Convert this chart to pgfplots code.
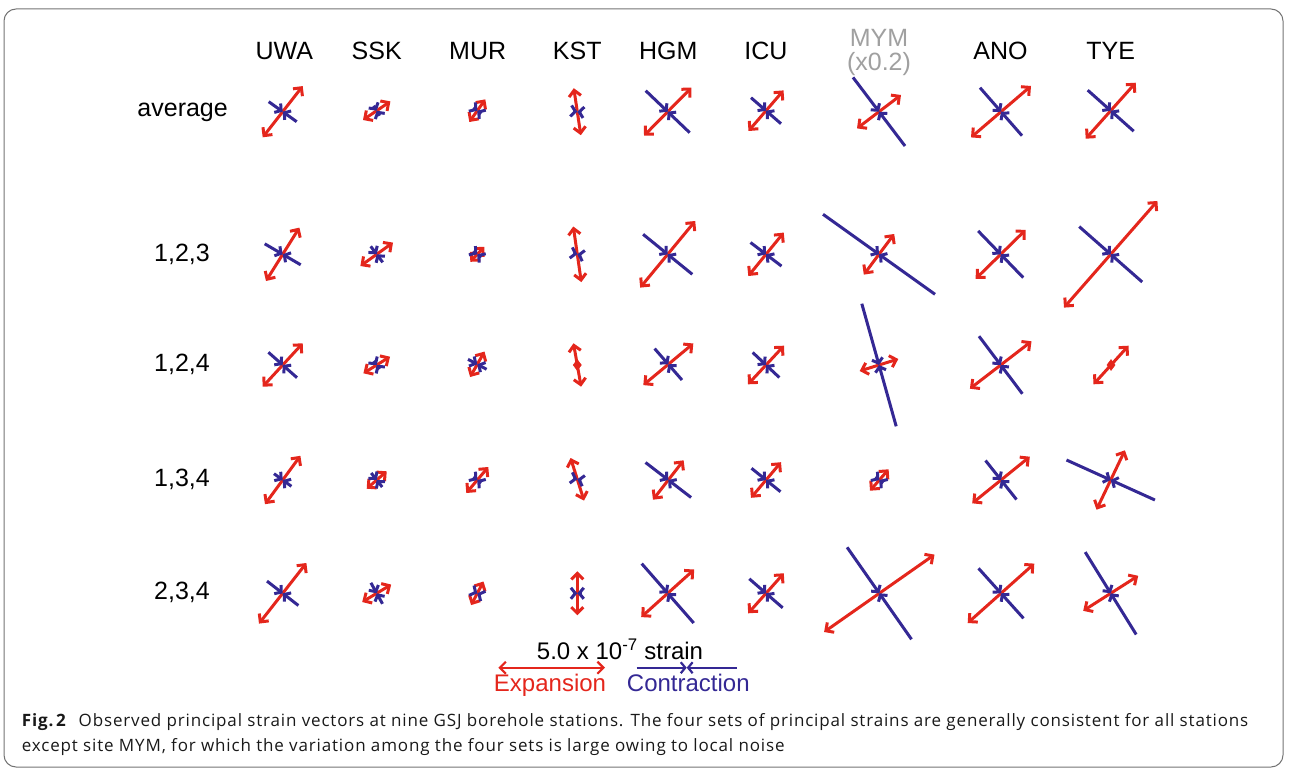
\documentclass[border=0pt]{standalone}
\usepackage{pgfplots}
\pgfplotsset{compat=1.18}
\usepackage{pgfplotstable}
\usepackage{fontspec}
\setmainfont{Liberation Sans}
\newfontfamily\capfont[LetterSpace=5]{Open Sans}
\usetikzlibrary{arrows.meta}

\definecolor{expred}{RGB}{228,38,28}
\definecolor{conblue}{RGB}{52,40,148}
\definecolor{mymgray}{RGB}{160,160,160}

% Principal strain crosses: centre (cx,cy) in picture units (y downward),
% half expansion vector (rx,ry) and half contraction vector (bx,by).
\pgfplotstableread{
cx     cy     rx     ry     bx    by
282.7  111.7  20.0  -25.6   14.0  10.0
376.7  110.7  13.7   -9.3    3.0   5.0
477.3  110.7   8.0  -11.3    4.0   3.0
577.3  111.7  -3.5  -23.5    4.0   0.5
667.7  111.7  23.7  -24.0   22.0  21.0
766.0  110.7  17.5  -20.3   15.0  13.0
879.0  111.7  22.0  -16.7   26.0  34.3
1001.0 111.7  30.0  -25.7   21.0  24.0
1110.7 110.7  25.0  -28.0   23.0  20.5
282.7  254.3  16.7  -26.7   18.0  10.5
376.7  254.3  16.3  -11.7    6.0   8.0
477.3  254.3   7.0   -7.5    4.0   3.0
577.3  254.3  -4.0  -27.8    4.0   1.0
667.7  254.3  27.5  -33.3   24.6  20.0
766.0  254.3  17.7  -21.7   15.5  11.8
879.0  254.3  15.2  -20.3   56.0  40.0
1000.7 254.3  25.0  -24.5   22.5  23.3
1110.7 254.3  46.7  -53.3   31.5  27.7
282.7  365.0  20.0  -21.7   14.3  12.7
376.7  365.0  13.3   -8.3    3.0   4.0
477.3  364.3   7.2  -12.7    9.3   5.0
668.3  364.3  25.0  -20.8   13.7  15.7
766.0  365.0  18.0  -19.3   13.3  12.5
879.0  365.0  19.3   -6.0   17.2  61.3
1000.7 365.0  30.8  -23.7   21.7  28.8
282.7  480.0  17.7  -24.2    8.7   6.3
376.7  480.0  10.0   -8.7    5.5   7.0
477.3  480.0  11.0  -13.0    4.0   3.0
577.3  479.3  -6.7  -21.3    4.0   1.0
668.3  480.0  15.3  -19.7   22.8  17.5
766.0  480.0  15.0  -17.8   14.5  11.7
879.3  480.0   9.3  -10.7    4.0   3.0
1001.0 480.0  28.8  -23.3   15.5  19.5
1110.7 480.0  14.2  -29.7   44.2  20.0
282.7  593.3  23.7  -30.3   15.7  12.2
376.7  593.3  14.5   -8.7    5.8  10.5
477.3  593.3   6.2  -11.8    3.0   1.5
577.3  593.3   0.0  -22.0    4.0   0.0
667.7  593.3  26.5  -23.8   26.0  29.7
766.0  593.3  17.8  -20.0   16.7  14.5
879.3  593.3  55.2  -38.7   32.2  46.0
1001.0 593.3  33.3  -29.7   22.5  25.0
1110.7 593.3  27.5  -17.5   25.5  41.2
}\crosses

% Stations where only expansion is visible (centre drawn as a red dot)
\pgfplotstableread{
cx     cy     rx     ry
577.3  365.0  -3.8  -21.7
1111.0 365.0  17.5  -19.3
}\redonly

\pgfplotsset{
  exparrow/.style={expred, line width=3pt, -{Straight Barb[length=6pt,width=12pt]},
    quiver/every arrow/.append style={line width=3pt}},
  conarrow/.style={conblue, line width=3pt, -{Straight Barb[length=4.5pt,width=11pt]},
    quiver/every arrow/.append style={line width=3pt}},
}

\begin{document}
\begin{tikzpicture}
\begin{axis}[
  width=1290pt, height=770pt, scale only axis,
  xmin=0, xmax=1290, ymin=0, ymax=770, y dir=reverse,
  hide axis, clip=false,
]
\path (axis cs:0,0) rectangle (axis cs:1290,770);
\draw[black!55, line width=1pt, rounded corners=12pt]
  (axis cs:4,9) rectangle (axis cs:1283,767);

% expansion: outward arrows from the centre
\addplot[exparrow, quiver={u=\thisrow{rx}, v=\thisrow{ry}}]
  table[x=cx, y=cy] {\crosses};
\addplot[exparrow, quiver={u={-1*(\thisrow{rx})}, v={-1*(\thisrow{ry})}}]
  table[x=cx, y=cy] {\crosses};
\addplot[exparrow, quiver={u=\thisrow{rx}, v=\thisrow{ry}}]
  table[x=cx, y=cy] {\redonly};
\addplot[exparrow, quiver={u={-1*(\thisrow{rx})}, v={-1*(\thisrow{ry})}}]
  table[x=cx, y=cy] {\redonly};
\addplot[only marks, mark=diamond*, mark size=5.5pt, expred]
  table[x=cx, y=cy] {\redonly};

% contraction: inward arrows meeting at the centre
\addplot[conarrow, quiver={u={-1*(\thisrow{bx})}, v={-1*(\thisrow{by})}}]
  table[x expr=\thisrow{cx}+(\thisrow{bx}), y expr=\thisrow{cy}+(\thisrow{by})] {\crosses};
\addplot[conarrow, quiver={u=\thisrow{bx}, v=\thisrow{by}}]
  table[x expr=\thisrow{cx}-(\thisrow{bx}), y expr=\thisrow{cy}-(\thisrow{by})] {\crosses};

% scale bar
\addplot[expred, line width=2.2pt, {Straight Barb[length=6pt,width=12pt]}-{Straight Barb[length=6pt,width=12pt]}]
  coordinates {(498.3,667.7) (605,667.7)};
\addplot[conblue, line width=2.2pt, -{Straight Barb[length=4.5pt,width=11pt]}] coordinates {(636.7,667.7) (686.7,667.7)};
\addplot[conblue, line width=2.2pt, -{Straight Barb[length=4.5pt,width=11pt]}] coordinates {(736.7,667.7) (686.7,667.7)};

% station names
\begin{scope}[every node/.style={anchor=base, inner sep=0pt, font=\fontsize{25}{30}\selectfont}]
\node at (axis cs:284.3,59.3) {UWA};
\node at (axis cs:376.7,59.3) {SSK};
\node at (axis cs:477.7,59.3) {MUR};
\node at (axis cs:577.3,59.3) {KST};
\node at (axis cs:668.3,59.3) {HGM};
\node at (axis cs:766.0,59.3) {ICU};
\node[text=mymgray] at (axis cs:879.0,46.7) {MYM};
\node[text=mymgray] at (axis cs:879.0,71.0) {(x0.2)};
\node at (axis cs:1000.5,59.3) {ANO};
\node at (axis cs:1110.7,59.3) {TYE};
\end{scope}

% data-set labels
\begin{scope}[every node/.style={anchor=base east, inner sep=0pt, font=\fontsize{25}{30}\selectfont}]
\node at (axis cs:228,117.0) {average};
\node at (axis cs:210,261.0) {1,2,3};
\node at (axis cs:210,371.0) {1,2,4};
\node at (axis cs:210,486.0) {1,3,4};
\node at (axis cs:210,599.0) {2,3,4};
\end{scope}

% scale bar text
\node[anchor=base, inner sep=0pt, font=\fontsize{24}{28}\selectfont] at (axis cs:620,659.3)
  {5.0 x 10\textsuperscript{-7} strain};
\node[anchor=base, inner sep=0pt, font=\fontsize{24}{28}\selectfont, text=expred] at (axis cs:550,691.7) {Expansion};
\node[anchor=base, inner sep=0pt, font=\fontsize{24}{28}\selectfont, text=conblue] at (axis cs:688.3,691.7) {Contraction};

% caption
\begin{scope}[every node/.style={anchor=base west, inner sep=0pt, font=\capfont\fontsize{17}{20}\selectfont, text=black!90}]
\node at (axis cs:21.7,726.7) {\textbf{Fig.\,2}\hspace{0.7em}Observed principal strain vectors at nine GSJ borehole stations. The four sets of principal strains are generally consistent for all stations};
\node at (axis cs:21.7,751.0) {except site MYM, for which the variation among the four sets is large owing to local noise};
\end{scope}
\end{axis}
\end{tikzpicture}
\end{document}
